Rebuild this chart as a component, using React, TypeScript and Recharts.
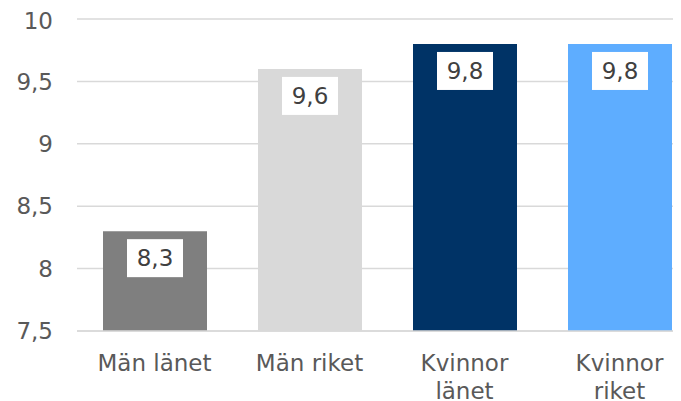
import { BarChart, Bar, XAxis, YAxis, CartesianGrid, Cell, LabelList } from 'recharts';

const categories = ['Män länet', 'Män riket', 'Kvinnor länet', 'Kvinnor riket'];
const values = [8.3, 9.6, 9.8, 9.8];
const barColors = ['#7F7F7F', '#D9D9D9', '#003366', '#5EADFF'];
const yTicks = [7.5, 8, 8.5, 9, 9.5, 10];

const chartData = categories.map((name, i) => ({ name, value: values[i] }));

const FONT = 'Verdana, "DejaVu Sans", sans-serif';
const fmt = (v: number) => String(v).replace('.', ',');

// wraps the long labels on two lines, like the Excel original
const CategoryTick = (props: any) => {
  const { x, y, payload } = props;
  const text: string = payload.value;
  const lines = text.length > 10 ? text.split(' ') : [text];
  return (
    <text x={x} y={y} textAnchor="middle" fill="#595959" fontSize={23} fontFamily={FONT}>
      {lines.map((line, i) => (
        <tspan key={i} x={x} y={y + 40 + i * 28}>
          {line}
        </tspan>
      ))}
    </text>
  );
};

const ValueLabel = (props: any) => {
  const { x, y, width, value } = props;
  const cx = x + width / 2;
  const boxW = 56;
  const boxH = 38;
  return (
    <g>
      <rect x={cx - boxW / 2} y={y + 8} width={boxW} height={boxH} fill="#FFFFFF" />
      <text x={cx} y={y + 8 + boxH / 2 + 8} textAnchor="middle" fill="#404040" fontSize={23} fontFamily={FONT}>
        {fmt(value)}
      </text>
    </g>
  );
};

export default function App() {
  return (
    <div style={{ width: 673, height: 393, overflow: 'hidden', background: '#fff' }}>
      <BarChart
        width={689}
        height={393}
        data={chartData}
        margin={{ top: 11, right: 0, left: 0, bottom: 0 }}
        barSize={104}
      >
        <CartesianGrid vertical={false} stroke="#D9D9D9" strokeWidth={1.5} />
        <XAxis
          dataKey="name"
          height={70}
          tickLine={false}
          axisLine={{ stroke: '#D9D9D9', strokeWidth: 1.5 }}
          tickSize={0}
          tickMargin={0}
          interval={0}
          tick={<CategoryTick />}
        />
        <YAxis
          width={69}
          domain={[7.5, 10]}
          ticks={yTicks}
          allowDataOverflow
          axisLine={false}
          tickLine={false}
          tickSize={0}
          tickMargin={24}
          tickFormatter={fmt}
          tick={{ fill: '#595959', fontSize: 23, fontFamily: FONT }}
        />
        <Bar dataKey="value" isAnimationActive={false}>
          {chartData.map((d, i) => (
            <Cell key={d.name} fill={barColors[i]} />
          ))}
          <LabelList dataKey="value" content={<ValueLabel />} />
        </Bar>
      </BarChart>
    </div>
  );
}
